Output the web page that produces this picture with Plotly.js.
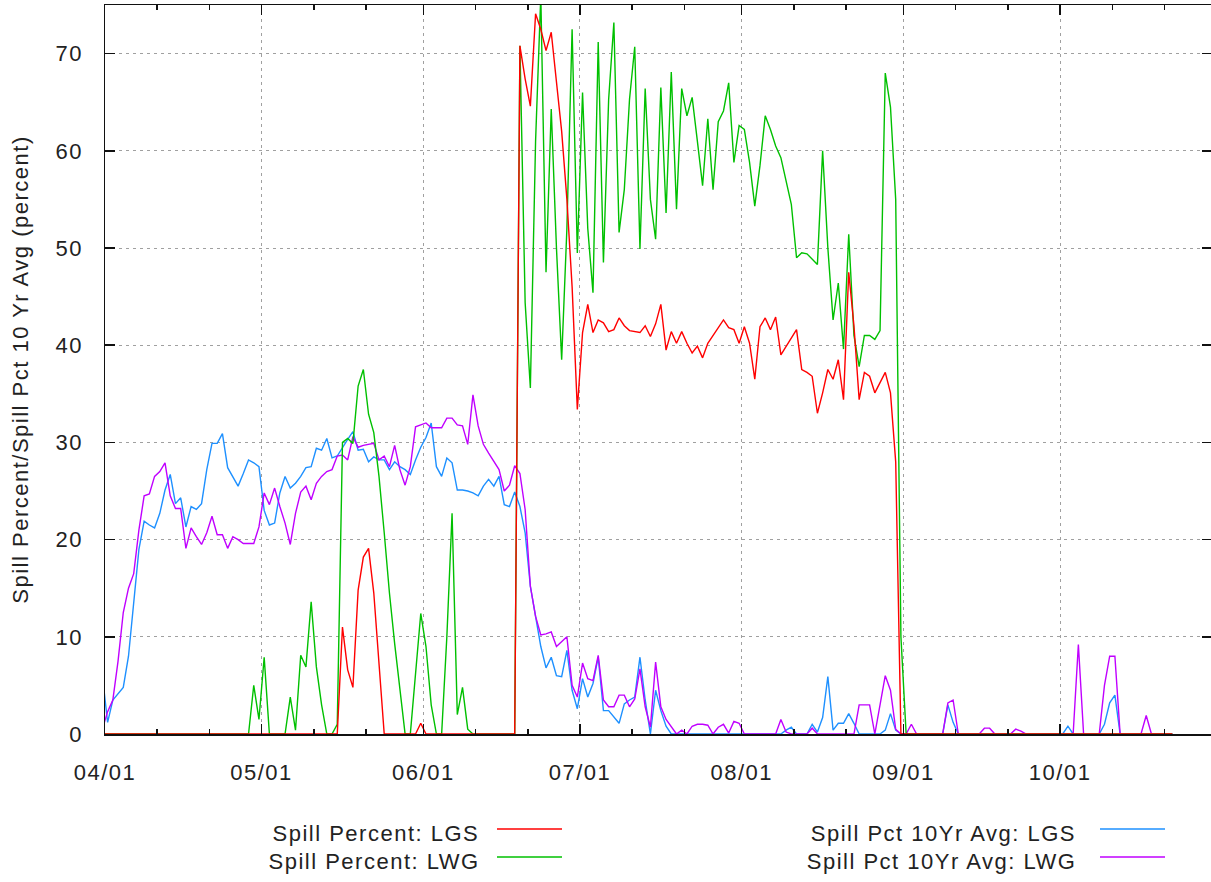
<!DOCTYPE html>
<html><head><meta charset="utf-8">
<script src="https://cdn.plot.ly/plotly-3.0.1.min.js"></script>
<style>
html,body{margin:0;padding:0;background:#fff;overflow:hidden;}
#chart{width:1212px;height:882px;}
#chart text{letter-spacing:1.5px;}
</style></head><body><div id="chart"></div>
<script>
// daily samples starting 03/31 (one value per day, first value = 03/31)
const firstSampleDay = '2015-03-31';

const spillLGS = [0,
 0,0,0,0,0,0,0,0,0,0,
 0,0,0,0,0,0,0,0,0,0,
 0,0,0,0,0,0,0,0,0,0,
 0,0,0,0,0,0,0,0,0,0,
 0,0,0,0,0,11,6.6,4.8,14.8,18.2,
 19.1,14.5,7.6,0,0,0,0,0,0,0,
 1.1,0,0,0,0,0,0,0,0,0,
 0,0,0,0,0,0,0,0,0,70.8,
 67.4,64.6,74.1,72.5,70.3,72.2,67,62,55,46,
 33.4,41.3,44.2,41.3,42.6,42.3,41.4,41.6,42.8,42,
 41.5,41.4,41.3,42,40.9,42.2,44.2,39.5,41.4,40.2,
 41.4,40.2,39.2,39.9,38.7,40.2,41,41.8,42.6,41.8,
 41.6,40.2,41.9,40.2,36.5,41.9,42.8,41.6,42.9,39,
 39.9,40.8,41.6,37.5,37.2,36.8,33,35.1,37.5,36.5,
 38.5,34.4,47.5,42,34.4,37.2,36.8,35.1,36.1,37.2,
 35.1,28,0,0,0,0,0,0,0,0,
 0,0,0,0,0,0,0,0,0,0,
 0,0,0,0,0,0,0,0,0,0,
 0,0,0,0,0,0,0,0,0,0,
 0,0,0,0,0,0,0,0,0,0,
 0,0,0,0,0];

const spillLWG = [0,
 0,0,0,0,0,0,0,0,0,0,
 0,0,0,0,0,0,0,0,0,0,
 0,0,0,0,0,0,0,0,5,1.5,
 7.9,0,0,0,0,3.8,0.4,8.1,6.9,13.6,
 6.9,3,0,0,1,30,30.4,29.9,35.8,37.5,
 32.9,31,26.5,20.7,14.5,9.3,4.8,0,0,6,
 12.4,9,3,0,0,10,22.7,2,4.8,0.5,
 0,0,0,0,0,0,0,0,0,70.8,
 44.4,35.6,61,76,47.5,64.3,50,38.5,52,72.5,
 49.5,66,52,45.4,71.2,48.5,65.3,73.2,51.6,56,
 65.3,70.7,49.9,66.4,55,50.9,66.5,53.6,68.1,54,
 66.4,63.6,65.5,61,56.4,63.3,56,63,64.1,67,
 58.8,62.6,62.2,58.8,54.3,58.5,63.6,62.2,60.5,59.3,
 57,54.5,49,49.5,49.4,48.8,48.3,60,50,42.6,
 46.4,39.6,51.4,41,37.8,41,41,40.6,41.5,68,
 64.5,55,10,0,0,0,0,0,0,0,
 0,0,0,0,0,0,0,0,0,0,
 0,0,0,0,0,0,0,0,0,0,
 0,0,0,0,0,0,0,0,0,0,
 0,0,0,0,0,0,0,0,0,0,
 0,0,0,0,0];

const avgLGS = [6,
 1.2,3.5,4.2,4.8,8,13.8,19,21.9,21.5,21.2,
 22.7,25.1,26.7,23.7,24.3,21.3,23.4,23.1,23.7,27.2,
 29.9,29.9,30.9,27.4,26.5,25.5,26.8,28.2,27.9,27.5,
 23,21.5,21.7,24.8,26.5,25.3,25.8,26.5,27.4,27.5,
 29.4,29.2,30.4,28.4,28.6,29.5,30.3,31.1,29.2,29.3,
 28,28.5,28.2,28.2,27.2,28,27.5,27.2,26.7,28.2,
 29.5,30.5,32,27.5,26.5,28.4,27.9,25.1,25.1,25,
 24.8,24.5,25.5,26.2,25.5,26.5,23.6,23.4,24.9,23.4,
 20.7,15.2,12,9,6.8,7.9,6,5.9,8.6,4.5,
 2.6,5.7,3.8,5.2,7.9,2.4,2.4,1.8,1.1,3.1,
 3.5,3.8,7.9,3.5,0,4.5,2.4,0.8,0,0,
 0,0,0,0,0,0,0,0,0,0,
 0,0,0,0,0,0,0,0,0,0,
 0.4,0.7,0,0,0,1,0.2,1.7,5.9,0.4,
 1.1,1.1,2.1,1.1,0,0,0,0,0,0.4,
 2.1,0.4,0,0,0,0,0,0,0,0,
 0,3,1.2,0,0,0,0,0,0,0,
 0,0,0,0,0,0,0,0,0,0,
 0,0,0,0,0.8,0,0,0,0,0,
 0,1,3.2,4,0,0,0,0,0,0,
 0,0,0,0,0];

const avgLWG = [0.5,
 2.3,3.5,7.5,12.5,15,16.5,21,24.5,24.7,26.5,
 27,27.9,24.5,23.2,23.2,19.1,21.2,20.3,19.5,20.7,
 22.4,20.5,20.5,19.1,20.3,20,19.6,19.6,19.6,21.3,
 24.8,23.6,25.3,23.4,21.7,19.5,22.7,24.9,25.5,24.1,
 25.8,26.5,27,27.2,28.6,28.7,28.2,30.6,29.5,29.7,
 29.8,29.9,28.2,28.6,27.5,29.7,27.2,25.6,27.5,31.6,
 31.8,32,31.5,31.5,31.5,32.5,32.5,31.8,31.7,29.8,
 34.9,31.7,29.8,28.9,28,27.2,25,25.6,27.6,26.8,
 23.1,15.2,12.1,10.2,10.3,10.5,9,9.5,10,5,
 3.8,7.3,5.7,5.5,8.1,3.5,2.8,2.8,4,4,
 2.8,3.6,6.7,2.8,0.7,7.4,2.8,1.5,0.7,0,
 0.4,0,0.8,1,1,0.9,0,0.7,1,0.1,
 1.3,1.1,0,0,0,0,0,0,0,1.5,
 0.2,0,0,0,0,0.6,0,0,0,0,
 0,0,0,0,3,3,3,0,3,6,
 4.5,0.5,0,0,1,0,0,0,0,0,
 0,3.2,3.5,0,0,0,0,0,0.6,0.6,
 0,0,0,0,0.5,0.3,0,0,0,0,
 0,0,0,0,0,0,9.2,0,0,0,
 0,5,8,8,0,0,0,0,0,1.9,
 0,0,0,0,0];

const seriesNames = ['Spill Percent: LGS','Spill Percent: LWG','Spill Pct 10Yr Avg: LGS','Spill Pct 10Yr Avg: LWG'];
const monthTickLabels = ['04/01','05/01','06/01','07/01','08/01','09/01','10/01'];
const yTickValues = [0,10,20,30,40,50,60,70];
const yTitle = 'Spill Percent/Spill Pct 10 Yr Avg (percent)';

// ---- styling / layout helpers ----
const colors = ['#ff0000','#00c000','#1e90ff','#c000ff'];
const FONT = 'Liberation Sans, Arial, sans-serif';
const FS = 22;
const year = '2015';

function sampleDates(n){
  const out = [];
  const t0 = Date.parse(firstSampleDay + 'T12:00:00Z');
  for (let k = 0; k < n; k++) {
    const d = new Date(t0 + k*86400000);
    out.push(d.toISOString().slice(0,10) + ' 12:00');
  }
  return out;
}
const values = [spillLGS, spillLWG, avgLGS, avgLWG];
const drawOrder = [2,3,1,0];
const traces = drawOrder.map(i => ({
  type:'scatter', mode:'lines', name: seriesNames[i],
  x: sampleDates(values[i].length), y: values[i],
  line:{color:colors[i], width:1.4}, showlegend:false, hoverinfo:'x+y+name'
}));

const tickvals = monthTickLabels.map(s => year + '-' + s.replace('/','-'));
const minorVals = [];
monthTickLabels.forEach(s => { const m = s.slice(0,2); minorVals.push(year+'-'+m+'-11', year+'-'+m+'-21'); });

// plot area geometry (px) for legend placement
const L = 105, W = 1107, T = 5, H = 729, B = T + H;
const px = v => (v - L) / W;
const py = v => (B - v) / H;

const legendCols = [{textRight:468, lineL:497, lineR:562}, {textRight:1061, lineL:1100, lineR:1165}];
const legendRows = [829, 857];
const shapes = [], annotations = [];
seriesNames.forEach((name, i) => {
  const c = legendCols[Math.floor(i/2)], ry = legendRows[i%2];
  shapes.push({type:'line', xref:'paper', yref:'paper', x0:px(c.lineL), x1:px(c.lineR), y0:py(ry), y1:py(ry), line:{color:colors[i], width:1.4}});
  annotations.push({xref:'paper', yref:'paper', x:px(c.textRight), y:py(ry+4), xanchor:'right', yanchor:'middle', text:name, showarrow:false, font:{family:FONT, size:FS, color:'#222'}});
});

const gridStyle = {showgrid:true, gridcolor:'#a0a0a0', gridwidth:1, griddash:'3px,4px'};
const layout = {
  width:1212, height:882,
  margin:{l:L, r:0, t:T, b:882-B},
  paper_bgcolor:'#fff', plot_bgcolor:'#fff',
  font:{family:FONT, size:FS, color:'#222'},
  showlegend:false,
  xaxis:Object.assign({
    type:'date', range:[year+'-04-01', year+'-10-30 02:30'],
    tickmode:'array', tickvals:tickvals, ticktext:monthTickLabels,
    ticks:'inside', ticklen:10, tickwidth:1.5, tickcolor:'#111',
    showline:true, linecolor:'#111', linewidth:1.5, mirror:'ticks',
    ticklabelstandoff:18, zeroline:false,
    minor:{tickmode:'array', tickvals:minorVals, ticks:'inside', ticklen:5, tickcolor:'#111', tickwidth:1.5, showgrid:false},
    tickfont:{family:FONT, size:FS, color:'#222'}
  }, gridStyle),
  yaxis:Object.assign({
    range:[0,75], tickmode:'array', tickvals:yTickValues,
    ticks:'inside', ticklen:10, tickwidth:1.5, tickcolor:'#111',
    showline:true, linecolor:'#111', linewidth:1.5, mirror:'ticks',
    ticklabelstandoff:16, zeroline:false,
    tickfont:{family:FONT, size:FS, color:'#222'},
    title:{text:yTitle, standoff:24, font:{family:FONT, size:FS, color:'#222'}}
  }, gridStyle),
  shapes:shapes, annotations:annotations
};
Plotly.newPlot('chart', traces, layout, {displayModeBar:false, staticPlot:true});
</script></body></html>
